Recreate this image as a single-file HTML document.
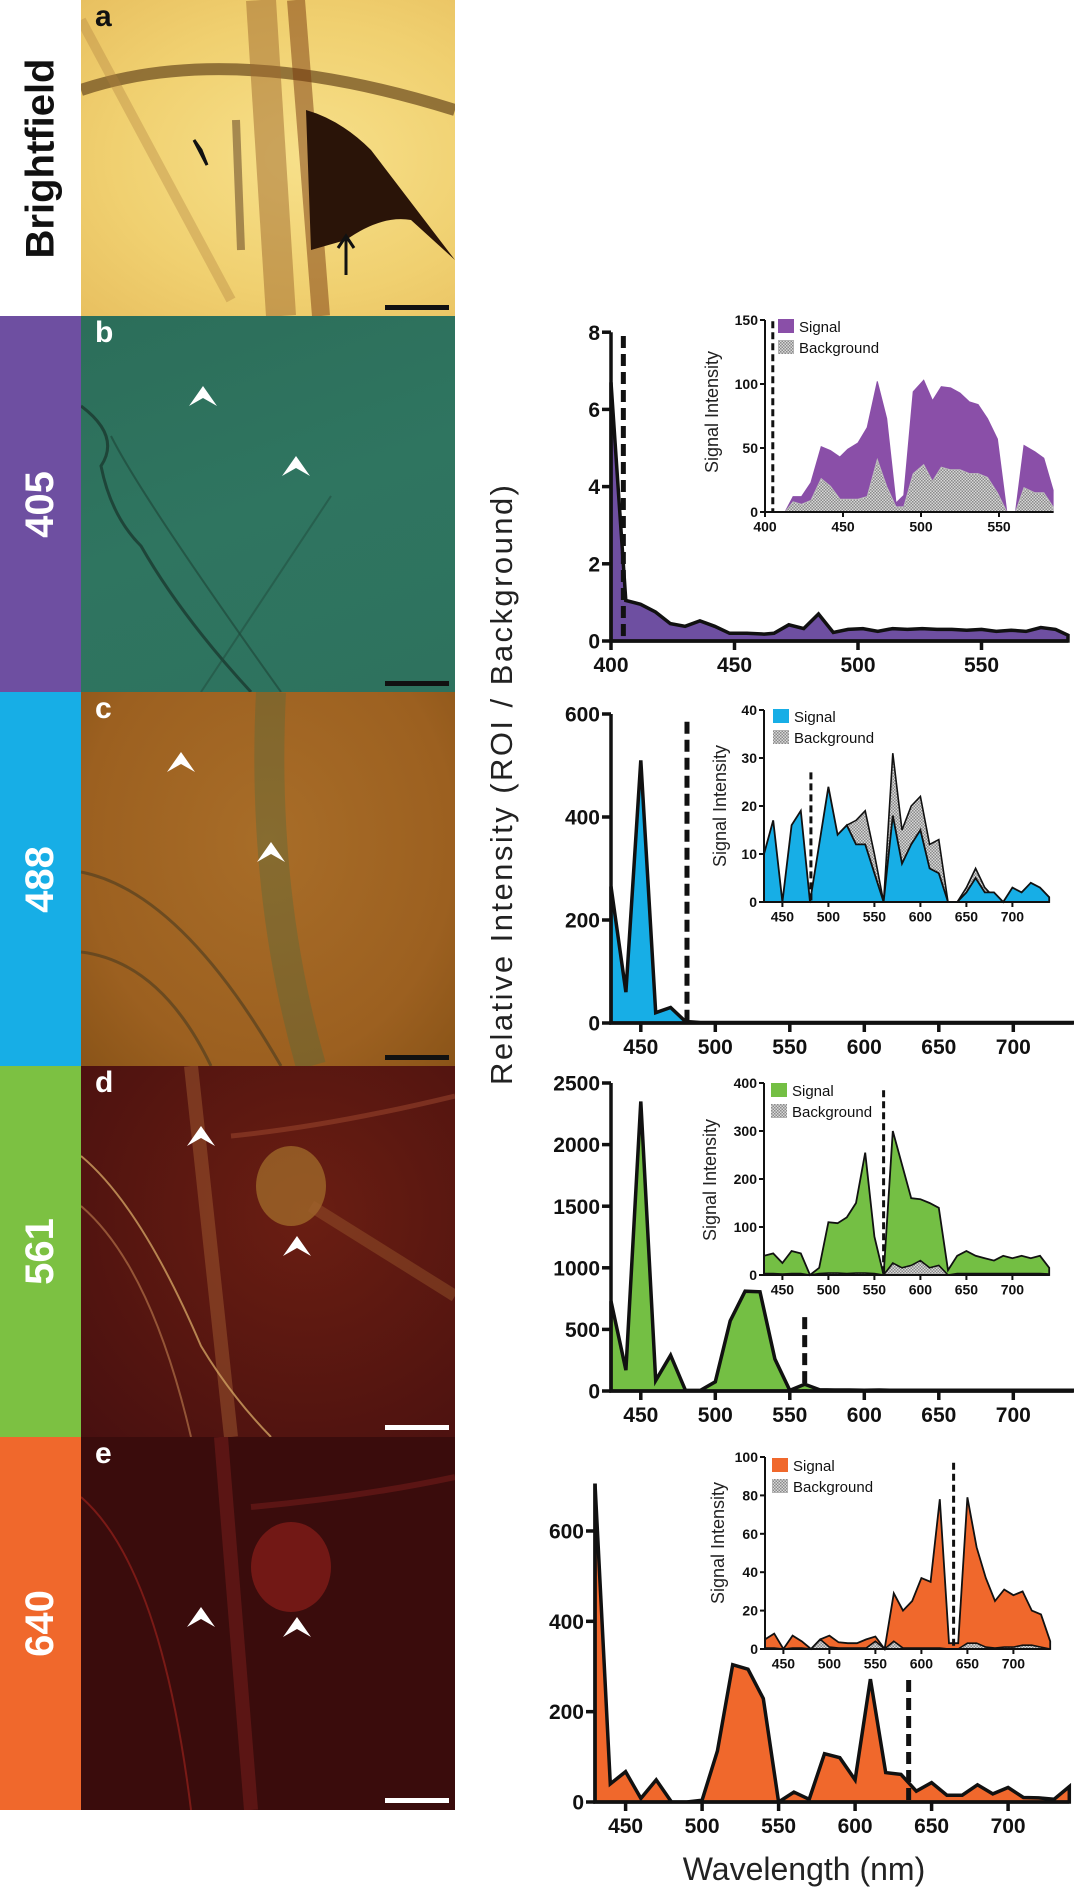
<!DOCTYPE html>
<html><head><meta charset="utf-8">
<style>
body{margin:0;width:1074px;height:1890px;background:#fff;position:relative;overflow:hidden;font-family:"Liberation Sans",Arial,sans-serif}
.lab{position:absolute;left:0;width:81px;display:flex;align-items:center;justify-content:center}
.lab span{transform:rotate(-90deg);white-space:nowrap;font-weight:bold;font-size:40px;color:#fff}
.ph{position:absolute;left:81px;width:374px;overflow:hidden}
.ph svg{position:absolute;left:0;top:0}
.let{position:absolute;left:14px;top:0px;font-weight:bold;font-size:30px;color:#fff}
#charts{position:absolute;left:0;top:0}
</style></head><body>

<div class="lab" style="top:0;height:316px;background:#fff"><span style="color:#111">Brightfield</span></div>
<div class="lab" style="top:316px;height:376px;background:#6e4fa1"><span>405</span></div>
<div class="lab" style="top:692px;height:374px;background:#17aee6"><span>488</span></div>
<div class="lab" style="top:1066px;height:371px;background:#7cc142"><span>561</span></div>
<div class="lab" style="top:1437px;height:373px;background:#f0682c"><span>640</span></div>

<div class="ph" style="top:0;height:316px;background:radial-gradient(ellipse at 60% 50%,#f7e08a,#f0d070 60%,#e8c060)">
<svg width="374" height="316">
<path d="M0,90 Q150,40 374,110" stroke="#7a5a28" stroke-width="12" fill="none" opacity="0.8"/>
<path d="M180,0 L200,316" stroke="#a06a30" stroke-width="30" opacity="0.5"/>
<path d="M215,0 L240,316" stroke="#7a3a10" stroke-width="18" opacity="0.5"/>
<path d="M0,20 L150,300" stroke="#b08040" stroke-width="10" opacity="0.35"/>
<path d="M225,110 Q260,120 290,150 L374,260 L330,220 Q300,215 265,240 L230,250 Z" fill="#2a1408"/>
<path d="M155,120 L160,250" stroke="#5a3a20" stroke-width="8" opacity="0.5"/>
<path d="M113,140 L126,165 L120,150 Z" fill="#111" stroke="#111" stroke-width="3"/>
<path d="M265,275 L265,238 M257,248 L265,236 L273,248" stroke="#111" stroke-width="3" fill="none"/>
<rect x="304" y="305" width="64" height="5" fill="#111"/>
</svg><div class="let" style="color:#111">a</div></div>

<div class="ph" style="top:316px;height:376px;background:linear-gradient(160deg,#2c6e5a,#2f7560 50%,#2e725e)">
<svg width="374" height="376">
<path d="M0,90 Q40,120 20,150 Q30,200 60,230 Q100,300 170,376" stroke="#1a3a30" stroke-width="3" fill="none" opacity="0.8"/>
<path d="M30,120 Q60,180 200,376" stroke="#1f4a3c" stroke-width="2" fill="none" opacity="0.7"/>
<path d="M120,376 L250,180" stroke="#1f4a3c" stroke-width="2" fill="none" opacity="0.5"/>
<path d="M122,70 L108,90 L122,82 L136,90 Z" fill="#fff"/>
<path d="M215,140 L201,160 L215,152 L229,160 Z" fill="#fff"/>
<rect x="304" y="365" width="64" height="5" fill="#111"/>
</svg><div class="let">b</div></div>

<div class="ph" style="top:692px;height:374px;background:radial-gradient(ellipse at 50% 40%,#a86d28,#9c6020 70%,#8a5418)">
<svg width="374" height="374">
<path d="M190,0 Q180,200 230,374" stroke="#4a6a40" stroke-width="30" fill="none" opacity="0.35"/>
<path d="M0,180 Q100,200 200,374" stroke="#4a3a20" stroke-width="3" fill="none" opacity="0.6"/>
<path d="M0,260 Q80,270 130,374" stroke="#4a3a20" stroke-width="3" fill="none" opacity="0.6"/>
<path d="M100,60 L86,80 L100,72 L114,80 Z" fill="#fff"/>
<path d="M190,150 L176,170 L190,162 L204,170 Z" fill="#fff"/>
<rect x="304" y="363" width="64" height="5" fill="#111"/>
</svg><div class="let">c</div></div>

<div class="ph" style="top:1066px;height:371px;background:radial-gradient(ellipse at 60% 40%,#6a1e12,#521410 70%,#481010)">
<svg width="374" height="371">
<path d="M110,0 L150,371" stroke="#a05a30" stroke-width="14" opacity="0.5"/>
<path d="M0,90 Q60,140 120,280 Q150,330 190,371" stroke="#d0a060" stroke-width="2" fill="none" opacity="0.8"/>
<path d="M0,140 Q70,200 110,371" stroke="#c08050" stroke-width="2" fill="none" opacity="0.6"/>
<path d="M150,70 Q250,60 374,30" stroke="#a04a30" stroke-width="5" fill="none" opacity="0.5"/>
<ellipse cx="210" cy="120" rx="35" ry="40" fill="#b08030" opacity="0.6"/>
<path d="M230,140 L374,230" stroke="#a06030" stroke-width="12" opacity="0.4"/>
<path d="M120,60 L106,80 L120,72 L134,80 Z" fill="#fff"/>
<path d="M216,170 L202,190 L216,182 L230,190 Z" fill="#fff"/>
<rect x="304" y="359" width="64" height="5" fill="#fff"/>
</svg><div class="let">d</div></div>

<div class="ph" style="top:1437px;height:373px;background:#3a0c0c">
<svg width="374" height="373">
<path d="M140,0 L170,373" stroke="#6a1a18" stroke-width="14" opacity="0.7"/>
<path d="M170,70 Q280,60 374,40" stroke="#6a1a18" stroke-width="6" fill="none" opacity="0.7"/>
<ellipse cx="210" cy="130" rx="40" ry="45" fill="#8a1e1a" opacity="0.7"/>
<path d="M0,60 Q80,130 110,373" stroke="#7a1a16" stroke-width="2" fill="none"/>
<path d="M120,170 L106,190 L120,182 L134,190 Z" fill="#fff"/>
<path d="M216,180 L202,200 L216,192 L230,200 Z" fill="#fff"/>
<rect x="304" y="361" width="64" height="5" fill="#fff"/>
</svg><div class="let">e</div></div>

<svg id="charts" width="1074" height="1890" xmlns="http://www.w3.org/2000/svg">
<defs><pattern id="chk" width="3" height="3" patternUnits="userSpaceOnUse"><rect width="3" height="3" fill="#d8d8d8"/><rect width="1.5" height="1.5" fill="#8a8a8a"/><rect x="1.5" y="1.5" width="1.5" height="1.5" fill="#8a8a8a"/></pattern></defs>
<text x="512" y="785" transform="rotate(-90 512 785)" text-anchor="middle" font-size="31" textLength="600" fill="#222">Relative Intensity (ROI / Background)</text>
<text x="804" y="1880" text-anchor="middle" font-size="32" fill="#222">Wavelength (nm)</text>
</svg>

<script>
// ---- data ----
const bMainX=[400,406,412,418,424,430,436,442,448,455,462,466,472,478,484,490,496,502,508,514,520,526,532,538,544,550,556,562,568,574,580,585];
const bMainY=[6.7,1.05,0.95,0.75,0.45,0.38,0.52,0.38,0.2,0.2,0.18,0.2,0.42,0.32,0.7,0.22,0.3,0.32,0.25,0.32,0.3,0.32,0.3,0.3,0.28,0.3,0.25,0.28,0.25,0.35,0.3,0.15];
const bInX=[404.7,412.8,418,423.4,429.4,436,442,448,453,459.6,465.5,472,478,484,489,495,501.7,507.4,513,519,525,531,536.6,542.6,549,555,560.6,566,573,578.7,584.7];
const bInSig=[0,0,12,12,23,51,48,43,49,54,66,102,73,7,13,94,103,87,98,97,93,86,84,73,57,0,0,52,47,42,17];
const bInBg=[0,0,8,6,9,26,20,10,10,10,12,41,20,4,4,30,37,24,35,33,33,30,30,27,15,0,0,19,15,15,4];
const wl=[430,440,450,460,470,480,490,500,510,520,530,540,550,560,570,580,590,600,610,620,630,640,650,660,670,680,690,700,710,720,730,740];
const cMainY=[265,60,510,20,30,3,1,1,1,1,1,1,1,1,1,1,1,1,1,1,1,1,1,1,1,1,1,1,1,1,1,1];
const cInSig=[10,17,0,16,19,0,12,24,14,16,12,12,6,0,18,8,12,15,7,6,0,0,2,5,2,2,0,3,2,4,3,1];
const cInBg=[0,0.5,0,1,1,0,10,16,13,16,17,19,10,0,31,15,20,22,12,13,0,0,3,7,3,1,0,2,1,4,3,1];
const dMainY=[730,170,2350,85,290,5,5,75,570,810,805,260,5,55,10,8,8,6,8,6,6,6,6,6,6,6,6,6,6,6,6,6];
const dInSig=[40,45,25,50,45,0,15,110,108,120,150,255,80,0,300,230,160,158,150,140,10,40,50,40,35,30,40,35,40,35,40,15];
const dInBg=[3,3,2,3,3,0,3,4,4,3,4,4,3,0,25,15,20,30,15,20,0,3,3,3,3,3,3,3,3,3,3,2];
const eMainY=[705,40,67,8,49,0,0,4,113,304,294,229,0,22,6,107,98,49,272,65,61,24,43,15,15,38,18,32,10,9,6,34];
const eInSig=[5,8,0,7,4,0,5,7,3.5,3,3,5,6.5,0,29,20,25,37,35,78,3,3,79,53,37,25,31,28,30,20,18,4];
const eInBg=[0.5,0.5,0,0.5,0.5,0,5,1,0.5,0.5,0.5,0.5,4,0,4,0.5,0.5,0.5,0.5,0.5,0,0,3,3,1,0.5,1,1,2,2,1,0];
const bTicksX=[400,450,500,550], bTicksY=[0,2,4,6,8];
const wlTicks=[450,500,550,600,650,700];
const cTicksY=[0,200,400,600], dTicksY=[0,500,1000,1500,2000,2500], eTicksY=[0,200,400,600];
const bInTicksY=[0,50,100,150], cInTicksY=[0,10,20,30,40], dInTicksY=[0,100,200,300,400], eInTicksY=[0,20,40,60,80,100];
const inTicksX=[450,500,550,600,650,700], bInTicksX=[400,450,500,550];
const excite={b:405,c:481,d:560,e:635};

const svg=document.getElementById('charts');
const NS='http://www.w3.org/2000/svg';
function mk(tag,attrs,parent){const e=document.createElementNS(NS,tag);for(const k in attrs)e.setAttribute(k,attrs[k]);(parent||svg).appendChild(e);return e;}
function lin(d0,r0,k){return v=>r0+(v-d0)*k;}
function areaPath(xs,ys,sx,sy){let d='M'+sx(xs[0])+','+sy(0);for(let i=0;i<xs.length;i++)d+=' L'+sx(xs[i]).toFixed(1)+','+sy(ys[i]).toFixed(1);d+=' L'+sx(xs[xs.length-1])+','+sy(0)+' Z';return d;}
function axes(g,sx,sy,x0,x1,y1,tx,ty,fs,lw,tl){
  const a=mk('path',{d:'M'+sx(x0)+','+sy(y1)+' L'+sx(x0)+','+sy(0)+' L'+sx(x1)+','+sy(0),stroke:'#111','stroke-width':lw,fill:'none'},g);
  
  ty.forEach(v=>{mk('line',{x1:sx(x0)-tl,x2:sx(x0),y1:sy(v),y2:sy(v),stroke:'#111','stroke-width':lw},g);
    const t=mk('text',{x:sx(x0)-tl-2,y:sy(v)+fs*0.36,'text-anchor':'end','font-size':fs,'font-weight':'bold',fill:'#111'},g);t.textContent=v;
    });
  tx.forEach(v=>{mk('line',{x1:sx(v),x2:sx(v),y1:sy(0),y2:sy(0)+tl,stroke:'#111','stroke-width':lw},g);
    const t=mk('text',{x:sx(v),y:sy(0)+tl+fs*1.05,'text-anchor':'middle','font-size':fs,'font-weight':'bold',fill:'#111'},g);t.textContent=v;
    });
}
function mainChart(name,xs,ys,color,sx,sy,x0,x1,y1,tx,ty,exc,dashTop){
  const g=mk('g',{});
  const p=mk('path',{d:areaPath(xs,ys,sx,sy),fill:color,stroke:'#111','stroke-width':3.5,'stroke-linejoin':'miter'},g);
  
  const dl=mk('line',{x1:sx(exc),x2:sx(exc),y1:sy(dashTop),y2:sy(0),stroke:'#111','stroke-width':5,'stroke-dasharray':'12,6'},g);
  
  axes(g,sx,sy,x0,x1,y1,tx,ty,21,3.5,9);
}
function inset(name,xs,sig,bg,color,sx,sy,x0,x1,y1,tx,ty,exc,dashTop,strokeBg,lx,ly,ylx,yly,bgFirst){
  const g=mk('g',{});
  function drawSig(){const s=mk('path',{d:areaPath(xs,sig,sx,sy),fill:color,stroke:strokeBg?'#111':color,'stroke-width':strokeBg?1.8:1},g);
    }
  function drawBg(){const b=mk('path',{d:areaPath(xs,bg,sx,sy),fill:'url(#chk)',stroke:strokeBg?'#111':'#bbb','stroke-width':strokeBg?1.6:1},g);
    }
  if(bgFirst){drawBg();drawSig();}else{drawSig();drawBg();}
  const dl=mk('line',{x1:sx(exc),x2:sx(exc),y1:sy(dashTop),y2:sy(0),stroke:'#111','stroke-width':3,'stroke-dasharray':'7,4'},g);
  
  axes(g,sx,sy,x0,x1,y1,tx,ty,14,2,5);
  const r1=mk('rect',{x:lx,y:ly,width:16,height:14,fill:color},g);
  
  const t1=mk('text',{x:lx+21,y:ly+13,'font-size':15,fill:'#111'},g);t1.textContent='Signal';
  
  const r2=mk('rect',{x:lx,y:ly+21,width:16,height:14,fill:'url(#chk)'},g);
  
  const t2=mk('text',{x:lx+21,y:ly+34,'font-size':15,fill:'#111'},g);t2.textContent='Background';
  
  const yl=mk('text',{x:ylx,y:yly,transform:'rotate(-90 '+ylx+' '+yly+')','text-anchor':'middle','font-size':18,fill:'#222'},g);yl.textContent='Signal Intensity';
  
}
mainChart('chart-405',bMainX,bMainY,'#6e4fa1',lin(400,611,2.47),lin(0,641,-38.6),400,585,8,bTicksX,bTicksY,excite.b,7.9);
inset('inset-405',bInX,bInSig,bInBg,'#8a4fa8',lin(400,765,1.56),lin(0,512,-1.28),400,585,150,bInTicksX,bInTicksY,excite.b,149,false,778,319,718,412,false);
mainChart('chart-488',wl,cMainY,'#17aee6',lin(430,611,1.49),lin(0,1023,-0.515),430,740,600,wlTicks,cTicksY,excite.c,585);
inset('inset-488',wl,cInSig,cInBg,'#17aee6',lin(430,764,0.92),lin(0,902,-4.8),430,740,40,inTicksX,cInTicksY,excite.c,27,true,773,709,726,806,true);
mainChart('chart-561',wl,dMainY,'#74bf44',lin(430,611,1.49),lin(0,1391,-0.1232),430,740,2500,wlTicks,dTicksY,excite.d,600);
inset('inset-561',wl,dInSig,dInBg,'#74bf44',lin(430,764,0.92),lin(0,1275,-0.48),430,740,400,inTicksX,dInTicksY,excite.d,385,true,771,1083,716,1180,false);
mainChart('chart-640',wl,eMainY,'#f0682c',lin(430,595,1.53),lin(0,1802,-0.4517),430,740,705,wlTicks,eTicksY,excite.e,270);
inset('inset-640',wl,eInSig,eInBg,'#f0682c',lin(430,765,0.92),lin(0,1649,-1.92),430,740,100,inTicksX,eInTicksY,excite.e,97,true,772,1458,724,1543,false);
</script>
</body></html>
